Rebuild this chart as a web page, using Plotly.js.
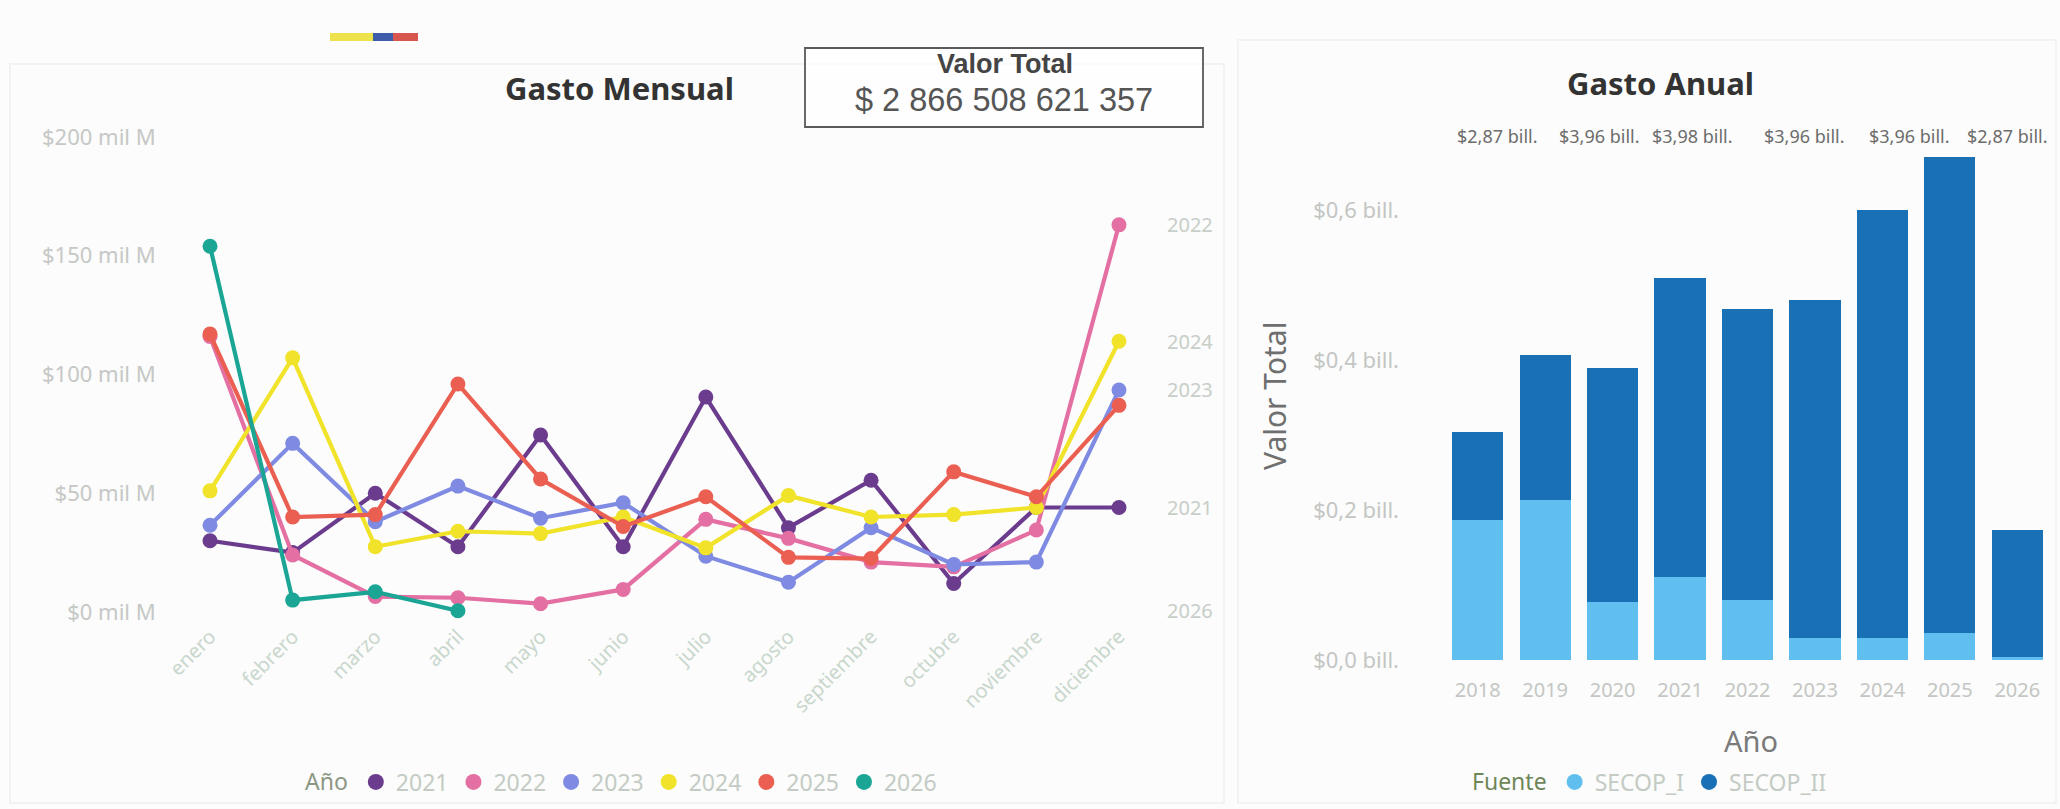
<!DOCTYPE html>
<html>
<head>
<meta charset="utf-8">
<script src="https://cdn.plot.ly/plotly-3.0.1.min.js"></script>
<style>
  html, body { margin: 0; padding: 0; background: #fbfcfb; }
  #chart { width: 2060px; height: 809px; }
</style>
</head>
<body>
<div id="chart"></div>
<script>
// ---------- DATA ----------
const months = ['enero','febrero','marzo','abril','mayo','junio','julio','agosto','septiembre','octubre','noviembre','diciembre'];
const yearsLine = ['2021','2022','2023','2024','2025','2026'];
const v2021 = [30, 25, 50, 27.5, 74.5, 27.5, 90.5, 35.5, 55.5, 12, 44, 44];
const v2022 = [116, 24, 6.5, 6, 3.5, 9.5, 39, 31, 21, 19, 34.5, 163];
const v2023 = [36.5, 71, 38, 53, 39.5, 46, 23.5, 12.5, 35.5, 20, 21, 93.5];
const v2024 = [51, 107, 27.5, 34, 33, 40, 27, 49, 40, 41, 44, 114];
const v2025 = [117, 40, 41, 96, 56, 36, 48.5, 23, 22.5, 59, 48.5, 87];
const v2026 = [154, 5, 8.5, 0.5];
const lineTicks = [0, 50, 100, 150, 200];
const lineTickText = ['$0 mil M', '$50 mil M', '$100 mil M', '$150 mil M', '$200 mil M'];
const endLabelYears = ['2022', '2024', '2023', '2021', '2026'];

const yearsBar = ['2018','2019','2020','2021','2022','2023','2024','2025','2026'];
const secopI  = [0.187, 0.213, 0.078, 0.111, 0.080, 0.029, 0.029, 0.036, 0.004];
const secopII = [0.117, 0.194, 0.312, 0.398, 0.388, 0.451, 0.571, 0.635, 0.169];
const barTicks = [0, 0.2, 0.4, 0.6];
const barTickText = ['$0,0 bill.', '$0,2 bill.', '$0,4 bill.', '$0,6 bill.'];
const topLabels = ['$2,87 bill.', '$3,96 bill.', '$3,98 bill.', '$3,96 bill.', '$3,96 bill.', '$2,87 bill.'];

const totalValue = 2866508621357;

// ---------- STYLE ----------
const W = 2060, H = 809;
const X = p => p / W;
const Y = p => 1 - p / H;
const FONT = 'Noto Sans, Open Sans, sans-serif';
const lineColors = {
  '2021': '#6B3C8E', '2022': '#E46FA2', '2023': '#7F8BE2',
  '2024': '#F1E22A', '2025': '#EA5F52', '2026': '#1AA595'
};
const seriesByYear = { '2021': v2021, '2022': v2022, '2023': v2023, '2024': v2024, '2025': v2025, '2026': v2026 };
const lightBlue = '#60BFEF', darkBlue = '#1A70B4';

const traces = [];
yearsLine.forEach(yr => {
  const vals = seriesByYear[yr];
  traces.push({
    type: 'scatter', mode: 'lines+markers',
    x: months.slice(0, vals.length), y: vals,
    xaxis: 'x', yaxis: 'y', name: yr, showlegend: false,
    line: { color: lineColors[yr], width: 4.2 },
    marker: { color: lineColors[yr], size: 15 },
    cliponaxis: false
  });
});
yearsLine.forEach(yr => {
  traces.push({
    type: 'scatter', mode: 'markers', x: [null], y: [null],
    xaxis: 'x', yaxis: 'y', name: yr, legend: 'legend',
    marker: { color: lineColors[yr], size: 20, symbol: 'circle' },
    hoverinfo: 'skip'
  });
});
traces.push({
  type: 'bar', x: yearsBar, y: secopI, name: 'SECOP_I', xaxis: 'x2', yaxis: 'y2',
  marker: { color: lightBlue }, showlegend: false
});
traces.push({
  type: 'bar', x: yearsBar, y: secopII, name: 'SECOP_II', xaxis: 'x2', yaxis: 'y2',
  marker: { color: darkBlue }, showlegend: false
});
[['SECOP_I', lightBlue], ['SECOP_II', darkBlue]].forEach(([n, c]) => {
  traces.push({
    type: 'scatter', mode: 'markers', x: [null], y: [null],
    xaxis: 'x2', yaxis: 'y2', name: n, legend: 'legend2',
    marker: { color: c, size: 20, symbol: 'circle' }, hoverinfo: 'skip'
  });
});

function fmtSpaces(n) {
  return '$ ' + String(n).replace(/\B(?=(\d{3})+(?!\d))/g, ' ');
}

function ann(text, px, py, font, extra) {
  return Object.assign({ text: text, x: X(px), y: Y(py), xref: 'paper', yref: 'paper',
    xanchor: 'center', yanchor: 'middle', showarrow: false, font: font }, extra || {});
}

const annotations = [
  ann('<b>Gasto Mensual</b>', 619, 88, { family: FONT, size: 31, color: '#333333' }),
  ann('<b>Gasto Anual</b>', 1660, 83, { family: FONT, size: 31, color: '#333333' }),
  ann('<b>Valor Total</b>', 1005, 64, { family: 'Liberation Sans Narrow, Liberation Sans, Arial', size: 27, color: '#444444' }),
  ann(fmtSpaces(totalValue), 1004, 100, { family: 'Liberation Sans, Arial', size: 32.5, color: '#555555' }),
  ann('Valor Total', 1275, 396, { family: FONT, size: 30, color: '#6f6f6f' }, { textangle: -90 }),
  ann('Año', 1751, 740, { family: FONT, size: 29, color: '#7a7a7a' })
];
const topLabelStarts = [1455, 1557, 1650, 1762, 1867, 1965];
topLabels.forEach((t, i) => {
  annotations.push(ann(t, topLabelStarts[i], 136, { family: FONT, size: 18, color: '#6c6c6c' }, { xanchor: 'left' }));
});
endLabelYears.forEach(yr => {
  const vals = seriesByYear[yr];
  annotations.push({ text: yr, x: X(1165), xanchor: 'left', yanchor: 'middle', xref: 'paper', yref: 'y',
    y: vals[vals.length - 1], showarrow: false, font: { family: FONT, size: 20, color: '#c8cec8' } });
});

const shapes = [
  { type: 'rect', xref: 'paper', yref: 'paper', x0: X(330), x1: X(373), y0: Y(41), y1: Y(33), fillcolor: '#EEE24C', line: { width: 0 } },
  { type: 'rect', xref: 'paper', yref: 'paper', x0: X(373), x1: X(393), y0: Y(41), y1: Y(33), fillcolor: '#3D5DAA', line: { width: 0 } },
  { type: 'rect', xref: 'paper', yref: 'paper', x0: X(393), x1: X(418), y0: Y(41), y1: Y(33), fillcolor: '#D9564F', line: { width: 0 } },
  { type: 'rect', xref: 'paper', yref: 'paper', x0: X(805), x1: X(1203), y0: Y(127), y1: Y(48), fillcolor: 'rgba(255,255,255,0.6)', line: { color: '#5a5a5a', width: 1.8 } },
  { type: 'rect', xref: 'paper', yref: 'paper', x0: X(10), x1: X(1224), y0: Y(803), y1: Y(64), line: { color: '#f0f3f2', width: 2 }, layer: 'below' },
  { type: 'rect', xref: 'paper', yref: 'paper', x0: X(1238), x1: X(2056), y0: Y(803), y1: Y(40), line: { color: '#f2f4f3', width: 2 }, layer: 'below' }
];

const layout = {
  width: W, height: H,
  margin: { l: 0, r: 0, t: 0, b: 0 },
  paper_bgcolor: '#fbfcfb', plot_bgcolor: 'rgba(0,0,0,0)',
  font: { family: FONT, color: '#c4c4c4' },
  barmode: 'stack', bargap: 0.24,
  xaxis: {
    domain: [X(168.7), X(1160.3)], anchor: 'y', type: 'category',
    categoryorder: 'array', categoryarray: months, range: [-0.5, 11.5],
    tickangle: -45, ticklabelstandoff: 8, tickfont: { family: FONT, size: 20, color: '#c9d7cd' },
    showgrid: false, zeroline: false, showline: false, ticks: ''
  },
  yaxis: {
    domain: [Y(612), Y(137)], anchor: 'x', range: [0, 200],
    tickvals: lineTicks, ticktext: lineTickText, ticklabelstandoff: 12,
    tickfont: { family: FONT, size: 22, color: '#c6c8c6' },
    showgrid: false, zeroline: false, showline: false, ticks: ''
  },
  xaxis2: {
    domain: [X(1444), X(2051)], anchor: 'y2', type: 'category',
    categoryorder: 'array', categoryarray: yearsBar, range: [-0.5, 8.5],
    ticklabelstandoff: 16, tickfont: { family: FONT, size: 20, color: '#c4c6c4' },
    showgrid: false, zeroline: false, showline: false, ticks: ''
  },
  yaxis2: {
    domain: [Y(660), Y(135)], anchor: 'x2', range: [0, 0.7],
    tickvals: barTicks, ticktext: barTickText, ticklabelstandoff: 44,
    tickfont: { family: FONT, size: 22, color: '#c4c6c4' },
    showgrid: false, zeroline: false, showline: false, ticks: ''
  },
  legend: {
    orientation: 'h', x: X(303), xanchor: 'left', y: Y(782), yanchor: 'middle',
    traceorder: 'normal',
    bgcolor: 'rgba(0,0,0,0)', font: { family: FONT, size: 23, color: '#c4cbc4' },
    title: { text: 'Año', side: 'left', font: { family: FONT, size: 23, color: '#8c9684' } },
    itemwidth: 30
  },
  legend2: {
    orientation: 'h', x: X(1470), xanchor: 'left', y: Y(782), yanchor: 'middle',
    traceorder: 'normal',
    bgcolor: 'rgba(0,0,0,0)', font: { family: FONT, size: 23, color: '#c4cbc4' },
    title: { text: 'Fuente', side: 'left', font: { family: FONT, size: 23, color: '#6e8658' } },
    itemwidth: 30
  },
  annotations: annotations,
  shapes: shapes,
  hovermode: false
};

Plotly.newPlot('chart', traces, layout, { displayModeBar: false, staticPlot: true });
</script>
</body>
</html>
